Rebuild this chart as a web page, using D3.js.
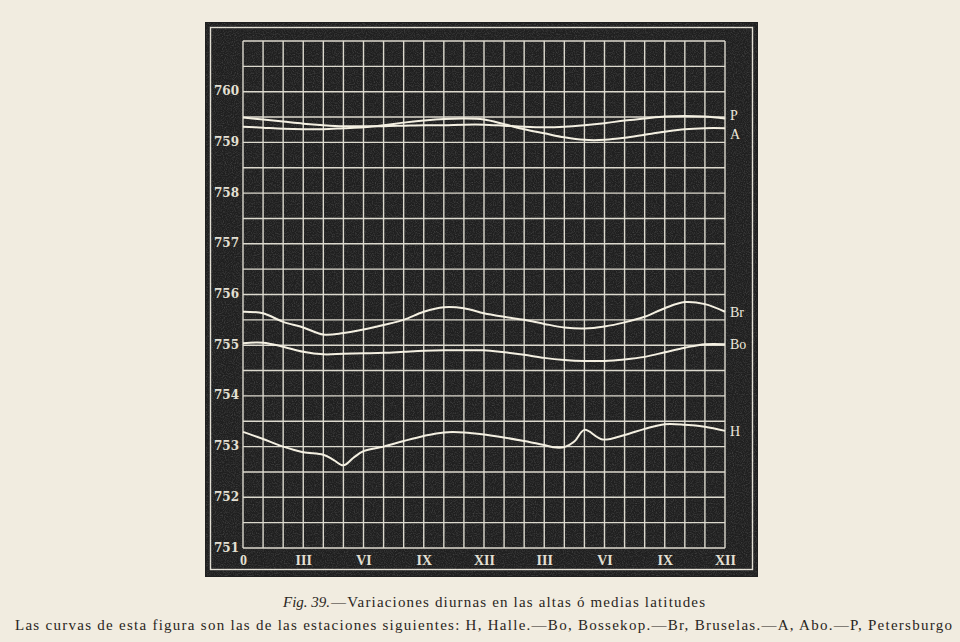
<!DOCTYPE html>
<html>
<head>
<meta charset="utf-8">
<script src="https://cdn.jsdelivr.net/npm/d3@7"></script>
<style>
  html, body { margin: 0; padding: 0; background: #f1ece0; }
  svg { display: block; }
</style>
</head>
<body>
<svg id="chart" width="960" height="642"></svg>
<script>
// ---------- DATA ----------
const hours = [0,1,2,3,4,5,6,7,8,9,10,11,12,13,14,15,16,17,18,19,20,21,22,23,24];
const xTickHours = [0,3,6,9,12,15,18,21,24];
const xTickLabels = ["0","III","VI","IX","XII","III","VI","IX","XII"];
const yTicks = [751,752,753,754,755,756,757,758,759,760];

const seriesP  = [759.49,759.45,759.41,759.37,759.34,759.32,759.32,759.32,759.33,759.34,759.34,759.35,759.35,759.33,759.31,759.30,759.31,759.34,759.38,759.43,759.47,759.51,759.52,759.51,759.47];
const seriesA  = [759.31,759.29,759.27,759.26,759.26,759.28,759.30,759.34,759.39,759.43,759.46,759.47,759.45,759.36,759.26,759.18,759.10,759.05,759.05,759.09,759.15,759.21,759.26,759.28,759.28];
const seriesBr = [755.66,755.63,755.46,755.35,755.21,755.24,755.31,755.40,755.50,755.66,755.75,755.73,755.63,755.56,755.50,755.42,755.35,755.33,755.37,755.45,755.56,755.73,755.85,755.81,755.66];
const seriesBo = [755.04,755.05,754.97,754.87,754.82,754.83,754.84,754.85,754.87,754.89,754.90,754.90,754.90,754.86,754.81,754.75,754.71,754.69,754.69,754.72,754.77,754.86,754.95,755.02,755.02];
const hHours   = [0,1,2,3,4,4.5,5,5.5,6,7,8,9,10,11,12,13,14,15,15.6,16,16.5,17,17.9,19,20,21,22,23,24];
const seriesH  = [753.29,753.15,753.00,752.89,752.84,752.74,752.63,752.78,752.91,753.00,753.11,753.21,753.28,753.28,753.24,753.18,753.11,753.03,752.98,752.99,753.10,753.33,753.14,753.23,753.35,753.44,753.43,753.39,753.31];
const seriesNames = ["P","A","Br","Bo","H"];

const captionTitleItalic = "Fig. 39.";
const captionTitle = "—Variaciones diurnas en las altas ó medias latitudes";
const captionText = "Las curvas de esta figura son las de las estaciones siguientes: H, Halle.—Bo, Bossekop.—Br, Bruselas.—A, Abo.—P, Petersburgo";

// ---------- SETUP ----------
const svg = d3.select("#chart");
const x = d3.scaleLinear().domain([0, 24]).range([243, 725]);
const y = d3.scaleLinear().domain([751, 761]).range([548, 41]);
const serif = "'Liberation Serif', 'DejaVu Serif', serif";

// black plate
svg.append("rect").attr("x", 205).attr("y", 22).attr("width", 553).attr("height", 555)
  .attr("fill", "#1f1f1f");
svg.append("rect").attr("x", 210.5).attr("y", 27.5).attr("width", 542).attr("height", 542)
  .attr("fill", "none").attr("stroke", "#e6e2d6").attr("stroke-width", 1.4);

// speckle texture (decorative)
const defs = svg.append("defs");
const filt = defs.append("filter").attr("id", "noise").attr("x", 0).attr("y", 0).attr("width", "100%").attr("height", "100%");
filt.append("feTurbulence").attr("type", "fractalNoise").attr("baseFrequency", 0.9).attr("numOctaves", 2).attr("seed", 3).attr("result", "t");
filt.append("feColorMatrix").attr("in", "t").attr("type", "matrix")
  .attr("values", "0 0 0 0 0.35  0 0 0 0 0.35  0 0 0 0 0.35  0 0 0 1.1 -0.45");
svg.append("rect").attr("x", 206).attr("y", 23).attr("width", 551).attr("height", 553)
  .attr("filter", "url(#noise)").attr("opacity", 0.5);

// grid
const gridColor = "#dcd9ce";
const hLines = d3.range(751, 761.01, 0.5);
svg.append("g").selectAll("line").data(hLines).join("line")
  .attr("x1", x(0)).attr("x2", x(24))
  .attr("y1", d => y(d)).attr("y2", d => y(d))
  .attr("stroke", gridColor).attr("stroke-width", 1.4);
svg.append("g").selectAll("line").data(hours).join("line")
  .attr("x1", d => x(d)).attr("x2", d => x(d))
  .attr("y1", y(761)).attr("y2", y(751))
  .attr("stroke", gridColor).attr("stroke-width", 1.4);

// axes (labels only)
const yAxis = svg.append("g").attr("transform", `translate(${x(0) - 4},0)`)
  .call(d3.axisLeft(y).tickValues(yTicks).tickSize(0).tickPadding(0).tickFormat(d3.format("d")));
yAxis.select(".domain").remove();
yAxis.selectAll("text").attr("fill", "#e4e0d4").attr("font-family", "'DejaVu Serif', serif")
  .attr("font-size", 12).attr("font-weight", "bold").attr("dy", "0.25em");

const xAxis = svg.append("g").attr("transform", `translate(0,${y(751)})`)
  .call(d3.axisBottom(x).tickValues(xTickHours).tickSize(0).tickPadding(7)
    .tickFormat((d, i) => xTickLabels[i]));
xAxis.select(".domain").remove();
xAxis.selectAll("text").attr("fill", "#e4e0d4").attr("font-family", serif)
  .attr("font-size", 14).attr("font-weight", "bold");

// curves
const line = d3.line().x(d => x(d[0])).y(d => y(d[1])).curve(d3.curveCatmullRom.alpha(0.5));
const series = [
  { name: "P",  xs: hours,  vs: seriesP },
  { name: "A",  xs: hours,  vs: seriesA },
  { name: "Br", xs: hours,  vs: seriesBr },
  { name: "Bo", xs: hours,  vs: seriesBo },
  { name: "H",  xs: hHours, vs: seriesH }
];
svg.append("g").selectAll("path").data(series).join("path")
  .attr("d", s => line(s.xs.map((h, i) => [h, s.vs[i]])))
  .attr("fill", "none").attr("stroke", "#f4f0e2").attr("stroke-width", 2)
  .attr("stroke-linejoin", "round");

// series labels
const labelOffsets = { P: -3, A: 6, Br: 0, Bo: 0, H: 0 };
svg.append("g").selectAll("text").data(series).join("text")
  .attr("x", x(24) + 5)
  .attr("y", s => y(s.vs[s.vs.length - 1]) + labelOffsets[s.name])
  .attr("dy", "0.35em")
  .attr("fill", "#ece8dc").attr("font-family", serif).attr("font-size", 14)
  .text(s => s.name);

// caption
const capItalic = svg.append("text").attr("x", 283).attr("y", 607)
  .attr("font-family", serif).attr("font-size", 15).attr("font-style", "italic")
  .attr("fill", "#2a2622").text(captionTitleItalic);
const italicW = capItalic.node().getComputedTextLength();
svg.append("text").attr("x", 283 + italicW + 1).attr("y", 607)
  .attr("font-family", serif).attr("font-size", 15).attr("fill", "#2a2622")
  .attr("textLength", 422 - italicW - 1).attr("lengthAdjust", "spacing")
  .text(captionTitle);

svg.append("text").attr("x", 15).attr("y", 630)
  .attr("font-family", serif).attr("font-size", 15).attr("fill", "#2a2622")
  .attr("textLength", 937).attr("lengthAdjust", "spacing")
  .text(captionText);
</script>
</body>
</html>
